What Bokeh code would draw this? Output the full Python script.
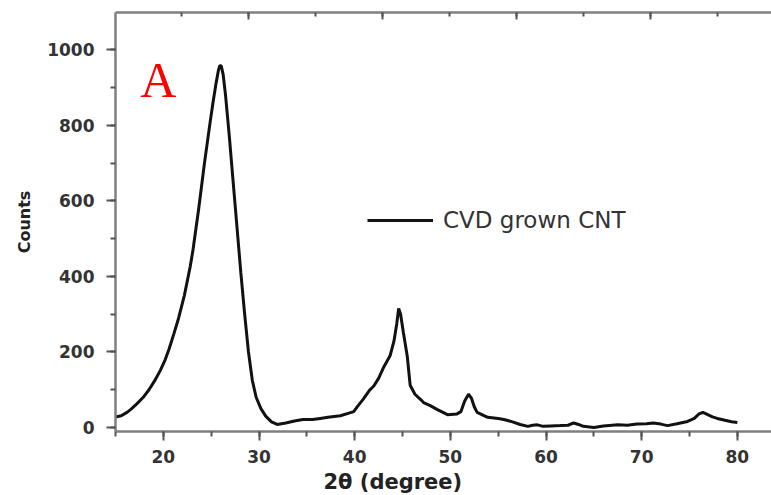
from bokeh.plotting import figure
from bokeh.models import (Range1d, LinearAxis, SingleIntervalTicker, Label, Legend,
                          LegendItem, CustomJSTickFormatter, Title)
from bokeh.embed import file_html
from bokeh.resources import INLINE

two_theta = [15.0, 15.6, 16.2, 16.6, 17.2, 17.9, 18.5, 19.1, 19.7, 20.2, 20.6, 21.1, 21.6,
             22.2, 22.8, 23.1, 23.7, 24.3, 24.9, 25.2, 25.5, 25.75, 25.9, 26.05, 26.25,
             26.5, 26.9, 27.3, 27.7, 28.1, 28.5, 28.9, 29.3, 29.7, 30.2, 30.7, 31.3, 31.9,
             32.8, 33.7, 34.6, 35.6, 36.4, 37.2, 38.5, 39.4, 39.9, 40.3, 40.9, 41.6, 42.0,
             42.5, 43.0, 43.7, 44.1, 44.4, 44.6, 44.8, 45.1, 45.5, 45.8, 46.3, 46.9, 47.2,
             47.9, 48.6, 49.7, 50.7, 51.1, 51.5, 51.9, 52.2, 52.5, 52.8, 53.9, 55.0, 55.6,
             56.5, 57.3, 58.1, 58.6, 59.1, 59.7, 60.5, 61.5, 62.3, 62.9, 63.4, 63.9, 65.0,
             66.0, 67.5, 68.5, 69.5, 70.5, 71.2, 72.0, 72.7, 73.7, 74.8, 75.5, 76.0, 76.4,
             76.9, 77.4, 77.9, 78.7, 79.4, 80.0]
counts = [28, 31, 40, 48, 62, 80, 100, 124, 152, 180, 208, 248, 290,
          350, 425, 470, 580, 700, 810, 862, 910, 945, 958, 958, 935,
          880, 770, 650, 530, 410, 300, 200, 125, 80, 50, 30, 15, 8,
          12, 17, 21, 21, 24, 27, 31, 38, 42, 56, 75, 100, 110,
          130, 158, 190, 228, 275, 315, 300, 250, 188, 112, 88, 74, 66,
          58, 48, 34, 36, 42, 70, 88, 78, 55, 40, 27, 24, 21,
          15, 8, 3, 6, 7, 3, 4, 5, 6, 12, 8, 3, 0,
          4, 7, 6, 9, 10, 12, 9, 5, 10, 16, 24, 36, 40,
          34, 28, 24, 19, 15, 13]
series_name = "CVD grown CNT"
panel_label = "A"
x_title = "2θ (degree)"
y_title = "Counts"

p = figure(width=771, height=495, output_backend="svg", toolbar_location=None,
           x_range=Range1d(15, 83.57), y_range=Range1d(-10.6, 1099),
           min_border_left=115, min_border_right=0, min_border_top=12, min_border_bottom=0)
p.grid.visible = False
p.outline_line_color = None
p.background_fill_color = "white"
p.border_fill_color = "white"

r = p.line(two_theta, counts, line_color="#111111", line_width=3)

axis_col = "#7f7f7f"
tick_col = "#555555"
for ax in (p.xaxis[0], p.yaxis[0]):
    ax.axis_line_color = axis_col
    ax.axis_line_width = 2.5
    ax.major_tick_line_color = tick_col
    ax.minor_tick_line_color = tick_col
    ax.major_tick_line_width = 2
    ax.minor_tick_line_width = 2
    ax.major_tick_out = 9
    ax.major_tick_in = 0
    ax.minor_tick_out = 5
    ax.minor_tick_in = 0
    ax.major_label_text_font = "DejaVu Sans"
    ax.major_label_text_font_style = "bold"
    ax.major_label_text_font_size = "17px"
    ax.major_label_text_color = "#333333"

p.xaxis[0].ticker = SingleIntervalTicker(interval=10, num_minor_ticks=2)
p.yaxis[0].ticker = SingleIntervalTicker(interval=200, num_minor_ticks=2)
p.xaxis[0].major_label_standoff = 9
p.yaxis[0].major_label_standoff = 12

p.yaxis[0].axis_label = y_title
p.yaxis[0].axis_label_text_font = "DejaVu Sans"
p.yaxis[0].axis_label_text_font_style = "bold"
p.yaxis[0].axis_label_text_font_size = "16px"
p.yaxis[0].axis_label_text_color = "#222222"
p.yaxis[0].axis_label_standoff = 10

# x axis title, placed left of centre as in the original figure
xt = Title(text=x_title, align="left", offset=208, standoff=4,
           text_font="DejaVu Sans", text_font_style="bold",
           text_font_size="21px", text_color="#222222")
p.add_layout(xt, "below")

# top border axis with inward ticks
p.extra_x_ranges = {"top": Range1d(-1.985, 7.81)}
top = LinearAxis(x_range_name="top",
                 ticker=SingleIntervalTicker(interval=2, num_minor_ticks=2),
                 formatter=CustomJSTickFormatter(code="return ''"))
top.axis_line_color = axis_col
top.axis_line_width = 2.5
top.major_tick_line_color = tick_col
top.minor_tick_line_color = tick_col
top.major_tick_line_width = 2
top.minor_tick_line_width = 2
top.major_tick_in = 7
top.major_tick_out = 0
top.minor_tick_in = 4
top.minor_tick_out = 0
top.major_label_standoff = 0
top.major_label_text_font_size = "1px"
p.add_layout(top, "above")

p.add_layout(Label(x=17.6, y=919, text=panel_label, text_color="red",
                   text_font="Liberation Serif", text_font_size="50px",
                   text_baseline="alphabetic"))

legend = Legend(items=[LegendItem(label=series_name, renderers=[r])],
                location=(252, 198), padding=0, margin=0, spacing=0,
                glyph_width=66, glyph_height=24, label_height=24, label_standoff=10,
                label_text_font="DejaVu Sans", label_text_font_size="23px",
                label_text_color="#333333", border_line_alpha=0,
                background_fill_alpha=0)
p.add_layout(legend, "center")

open("out.html", "w").write(file_html(p, INLINE))
